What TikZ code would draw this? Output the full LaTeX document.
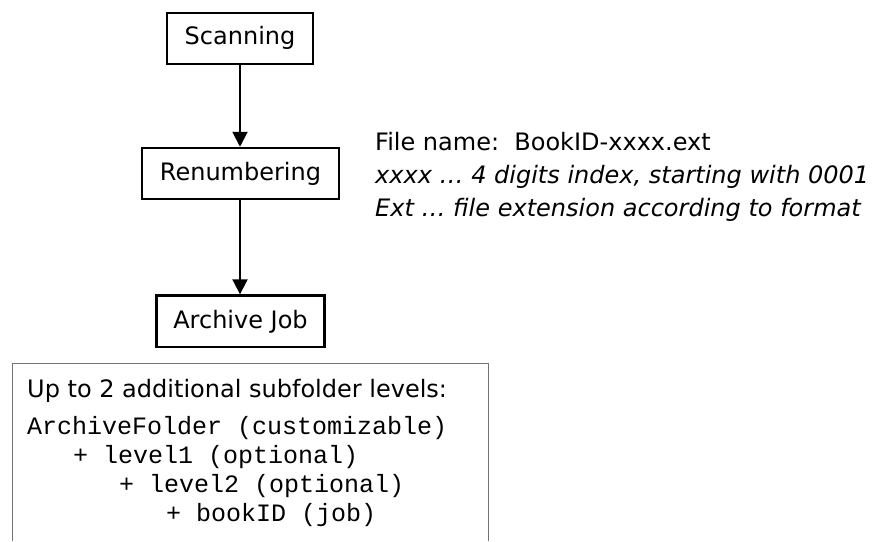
\documentclass[tikz,border=0pt]{standalone}
\usepackage{fontspec}
\setmainfont{DejaVu Sans}
\newfontfamily\monofont{Liberation Mono}
\usetikzlibrary{arrows.meta}
\tikzset{
  stepbox/.style={draw=black, line width=2.5pt, fill=white, inner sep=0pt,
    font=\fontsize{24}{28}\selectfont},
  flow/.style={draw=black, line width=2pt, -{Triangle[length=15pt,width=15pt]}},
  note/.style={anchor=base west, inner sep=0pt, font=\fontsize{24}{28}\selectfont},
  notei/.style={note, font=\fontsize{24}{28}\selectfont\itshape},
  mono/.style={anchor=base west, inner sep=0pt, font=\fontsize{25}{29}\selectfont\monofont},
  panel/.style={draw=black!55, line width=1pt}
}
\begin{document}
\begin{tikzpicture}[x=1pt,y=-1pt]
\useasboundingbox (0,0) rectangle (875,541);
\node[stepbox, minimum width=146pt, minimum height=51pt] (scan) at (240,38.3) {Scanning};
\node[stepbox, minimum width=197pt, minimum height=51pt] (renum) at (240.5,173.5) {Renumbering};
\node[stepbox, minimum width=168pt, minimum height=51.5pt] (arch) at (240.5,321.3) {Archive Job};
\draw[flow] (scan.south -| 240,0) -- (renum.north -| 240,0);
\draw[flow] (renum.south -| 240,0) -- (arch.north -| 240,0);
\node[note] (fn) at (375,150) {File name:\ \ BookID-xxxx.ext};
\node[notei] (fx) at (375,183) {xxxx … 4 digits index, starting with 0001};
\node[notei] (fe) at (375,216) {Ext … file extension according to format};
\draw[panel] (12,541) -- (12,363) coordinate (pnw) -- (488,363) -- (488,541);
\node[note] (up) at (27,397) {Up to 2 additional subfolder levels:};
\node[mono] (l0) at (27,434) {ArchiveFolder (customizable)};
\node[mono] (l1) at (73,463) {+ level1 (optional)};
\node[mono] (l2) at (119,492) {+ level2 (optional)};
\node[mono] (l3) at (166,521) {+ bookID (job)};
\end{tikzpicture}
\end{document}
